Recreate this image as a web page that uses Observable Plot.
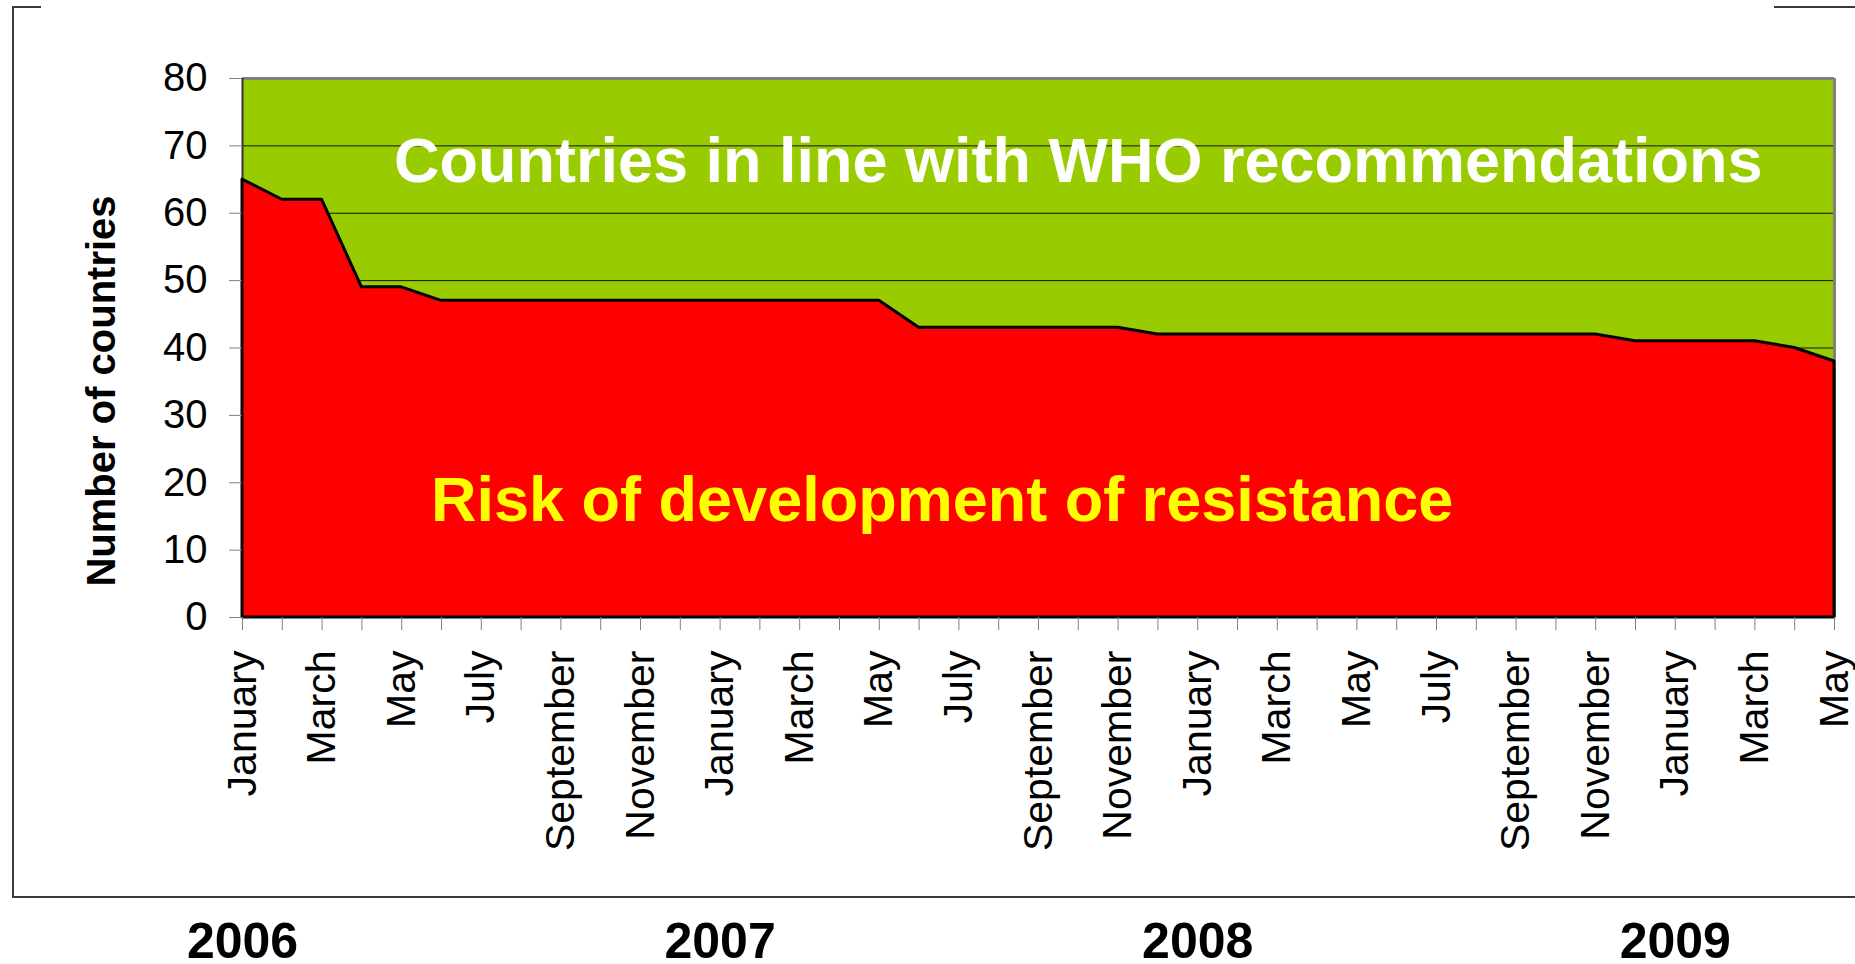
<!DOCTYPE html>
<html><head><meta charset="utf-8">
<script src="https://cdn.jsdelivr.net/npm/d3@7"></script>
<script src="https://cdn.jsdelivr.net/npm/@observablehq/plot@0.6"></script>
<style>
html,body{margin:0;padding:0;background:#fff;}
#wrap{position:relative;width:1855px;height:964px;overflow:hidden;}
.fl{position:absolute;background:#3a3a3a;}
</style></head><body><div id="wrap"></div>
<script>
// Months from January 2006 to May 2009
const months = [
  "January","February","March","April","May","June","July","August","September","October","November","December",
  "January","February","March","April","May","June","July","August","September","October","November","December",
  "January","February","March","April","May","June","July","August","September","October","November","December",
  "January","February","March","April","May"
];
// Countries at risk of development of resistance (red series)
const riskCountries = [
  65,62,62,49,49,47,47,47,47,47,47,47,
  47,47,47,47,47,43,43,43,43,43,43,42,
  42,42,42,42,42,42,42,42,42,42,42,41,
  41,41,41,40,38
];
// Total number of countries (top of the green series)
const totalCountries = 80;
const yTicks = [0,10,20,30,40,50,60,70,80];
const years = ["2006","2007","2008","2009"];
const yearMonthIndex = [0,12,24,36];
const inLineLabel = "Countries in line with WHO recommendations";
const riskLabel = "Risk of development of resistance";
const yLabel = "Number of countries";

const data = months.map((m, i) => ({i, month: m, risk: riskCountries[i], total: totalCountries}));
const monthIndex = months.map((_, i) => i);

const font = "'Liberation Sans', Arial, Helvetica, sans-serif";

const chart = Plot.plot({
  width: 1855, height: 964,
  marginLeft: 242, marginRight: 21, marginTop: 78, marginBottom: 347,
  style: {fontFamily: font, background: "transparent", color: "#000"},
  x: {domain: [0, months.length - 1], axis: null},
  y: {domain: [0, totalCountries], axis: null},
  marks: [
    Plot.areaY(data, {x: "i", y1: "risk", y2: "total", fill: "#99CC00"}),
    Plot.ruleY(yTicks.slice(1, -1), {stroke: "#111", strokeWidth: 1}),
    Plot.ruleY([totalCountries], {stroke: "#808080", strokeWidth: 3}),
    Plot.ruleX([months.length - 1], {stroke: "#808080", strokeWidth: 3}),
    Plot.ruleX([0], {stroke: "#333", strokeWidth: 2}),
    Plot.areaY(data, {x: "i", y: "risk", fill: "#FF0000", stroke: "#000", strokeWidth: 3}),
    Plot.axisY(yTicks, {anchor: "left", tickSize: 13, tickPadding: 22, fontSize: 40, stroke: "#808080", fill: "#000", label: null}),
    Plot.axisX(monthIndex, {anchor: "bottom", tickSize: 13, tickPadding: 20, tickRotate: -90, fontSize: 41,
      tickFormat: i => (i % 2 === 0 ? months[i] : ""), stroke: "#808080", fill: "#000", label: null}),
    Plot.text([inLineLabel], {x: () => 21, y: () => 67.7, text: d => d, fill: "#fff", fontSize: 63, fontWeight: "bold"}),
    Plot.text([riskLabel], {x: () => 17.58, y: () => 17.3, text: d => d, fill: "#FFFF00", fontSize: 63, fontWeight: "bold"}),
    Plot.text([yLabel], {frameAnchor: "left", textAnchor: "middle", text: d => d, rotate: -90, dx: -140, dy: 43, fontSize: 40, fontWeight: "bold", fill: "#000"}),
    Plot.text(years, {x: (d, i) => yearMonthIndex[i], text: d => d, frameAnchor: "bottom", dy: 340, fontSize: 50, fontWeight: "bold", fill: "#000"})
  ]
});

const wrap = document.getElementById("wrap");
wrap.appendChild(chart);
// slide frame decoration
[[12,7,2,891],[12,896,1843,2],[12,6,29,2],[1774,6,81,2]].forEach(([l,t,w,h]) => {
  const d = document.createElement("div");
  d.className = "fl";
  d.style.cssText = `left:${l}px;top:${t}px;width:${w}px;height:${h}px;`;
  wrap.appendChild(d);
});
</script></body></html>
